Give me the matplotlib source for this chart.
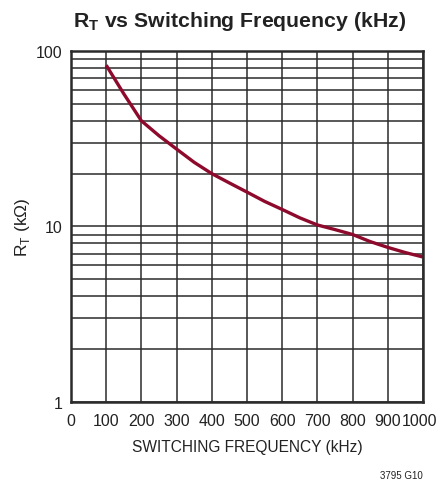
import numpy as np
import matplotlib
matplotlib.use("Agg")
import matplotlib.pyplot as plt
from matplotlib.ticker import FixedLocator, NullFormatter
from matplotlib.transforms import ScaledTranslation

plt.rcParams['font.family'] = ['Liberation Sans', 'DejaVu Sans']
plt.rcParams['mathtext.fontset'] = 'custom'
plt.rcParams['mathtext.rm'] = 'Liberation Sans'
plt.rcParams['mathtext.bf'] = 'Liberation Sans:bold'

# RT vs fsw curve
freq_khz = [100, 150, 200, 250, 300, 350, 400, 450, 500, 550,
            600, 650, 700, 750, 800, 850, 900, 950, 1000]
rt_kohm = [83, 57, 40, 32.9, 27.6, 23.2, 20, 17.7, 15.7, 13.9,
           12.5, 11.2, 10.2, 9.6, 9.0, 8.2, 7.6, 7.1, 6.7]

x_ticks = [0, 100, 200, 300, 400, 500, 600, 700, 800, 900, 1000]
y_major = [1, 10, 100]
y_minor = [2, 3, 4, 5, 6, 7, 8, 9, 20, 30, 40, 50, 60, 70, 80, 90]

grid_col = "#2b2b2b"
curve_col = "#8e0a2c"
text_col = "#222222"

fig = plt.figure(figsize=(4.39, 4.89), dpi=100)
ax = fig.add_axes([0.1617, 0.1759, 0.8019, 0.7178])

ax.set_yscale("log")
ax.set_xlim(0, 1000)
ax.set_ylim(1, 100)

ax.xaxis.set_major_locator(FixedLocator(x_ticks))
ax.yaxis.set_major_locator(FixedLocator(y_major))
ax.yaxis.set_minor_locator(FixedLocator(y_minor))
ax.yaxis.set_minor_formatter(NullFormatter())
ax.set_yticklabels([str(v) for v in y_major])

ax.grid(True, which="both", color=grid_col, linewidth=1.1)
ax.set_axisbelow(True)
ax.tick_params(which="both", length=0, labelsize=11.5, colors=text_col)
ax.tick_params(axis="x", pad=8)
ax.tick_params(axis="y", pad=6)

# nudge the last x label so it stays inside the figure
fig.canvas.draw()
last = ax.get_xticklabels()[-1]
last.set_transform(last.get_transform() + ScaledTranslation(-4 / 100, 0, fig.dpi_scale_trans))

for sp in ax.spines.values():
    sp.set_linewidth(1.8)
    sp.set_color(grid_col)

ax.plot(freq_khz, rt_kohm, color=curve_col, linewidth=2.4, solid_capstyle="butt")

ax.set_xlabel("SWITCHING FREQUENCY (kHz)", fontsize=11.2, color=text_col, labelpad=8)
ax.set_ylabel(r"R$_\mathrm{T}$ (kΩ)", fontsize=12.5, color=text_col)
ax.yaxis.set_label_coords(-0.112, 0.5)

fig.text(0.545, 0.957, r"$\mathbf{R_T}$ vs Switching Frequency (kHz)",
         ha="center", va="center", fontsize=15.3, fontweight="bold", color=text_col)
fig.text(0.962, 0.016, "3795 G10", ha="right", va="bottom", fontsize=7, color=text_col)

fig.savefig("out.png", dpi=100)
